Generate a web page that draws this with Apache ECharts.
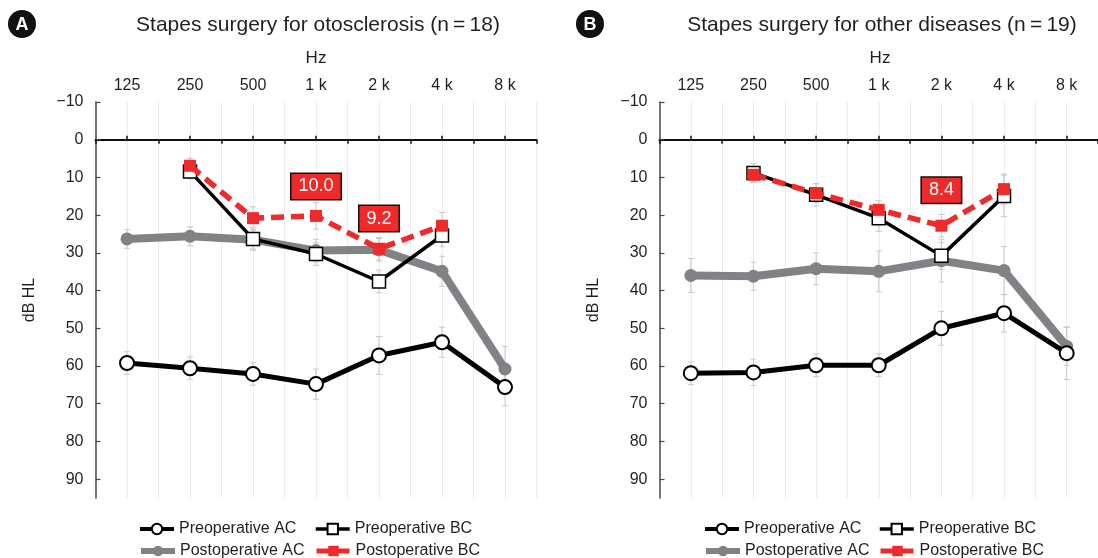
<!DOCTYPE html>
<html>
<head>
<meta charset="utf-8">
<script src="https://cdn.jsdelivr.net/npm/echarts@6/dist/echarts.min.js"></script>
<style>
html,body{margin:0;padding:0;background:#fff;}
#chart{width:1098px;height:558px;}
</style>
</head>
<body>
<div id="chart"></div>
<script>
// ---- data ----
const categories = ['125', '250', '500', '1 k', '2 k', '4 k', '8 k'];
const yTickMin = -10, yTickMax = 95, yTickStep = 10;
const yTickValues = [-10, 0, 10, 20, 30, 40, 50, 60, 70, 80, 90];

const titleA = 'Stapes surgery for otosclerosis (n\u2009=\u200918)';
const titleB = 'Stapes surgery for other diseases (n\u2009=\u200919)';
const seriesNames = ['Preoperative AC', 'Preoperative BC', 'Postoperative AC', 'Postoperative BC'];

// Panel A values (dB HL) and SD half-widths
const aPreAC   = [59.2, 60.6, 62.1, 64.8, 57.2, 53.7, 65.6];
const aPreBC   = [null, 8.4, 26.3, 30.3, 37.6, 25.4, null];
const aPostAC  = [26.3, 25.6, 26.5, 29.4, 29.2, 34.9, 60.8];
const aPostBC  = [null, 6.9, 20.8, 20.2, 28.9, 22.8, null];
const aPreACErr  = [3, 3, 3, 4, 5, 4, 5];
const aPreBCErr  = [null, 2, 3, 3, 3, 3, null];
const aPostACErr = [2.5, 2.5, 2.5, 3, 3, 4, 6];
const aPostBCErr = [null, 2, 3, 3.5, 3, 3.5, null];
const aNotes = [['1 k', 12.4, '10.0'], ['2 k', 20.9, '9.2']];

// Panel B values
const bPreAC   = [61.9, 61.7, 59.8, 59.8, 50.0, 46.0, 56.6];
const bPreBC   = [null, 8.8, 14.6, 20.8, 30.8, 14.9, null];
const bPostAC  = [36.0, 36.2, 34.2, 34.9, 32.1, 34.7, 54.8];
const bPostBC  = [null, 9.3, 14.2, 18.6, 22.8, 13.1, null];
const bPreACErr  = [3, 3.5, 3, 3, 4.5, 5, 7];
const bPreBCErr  = [null, 2.5, 3, 3.5, 3.5, 5.5, null];
const bPostACErr = [4.5, 3.7, 4.2, 5.4, 5.6, 6.4, 5];
const bPostBCErr = [null, 2, 2.5, 2.5, 3, 4, null];
const bNotes = [['2 k', 13.4, '8.4']];

// ---- styling ----
const FONT = '"Liberation Sans", Arial, Helvetica, sans-serif';
const TXT = '#231f20';
const RED = '#ee2a2a';
const GRAY = '#808285';

const chart = echarts.init(document.getElementById('chart'));

const grids = [], xAxes = [], yAxes = [], series = [], legends = [], graphics = [];

function buildPanel(p, gridLeft, vals, errs, notes, title, letter, legendLeft1, legendLeft2) {
  const g = grids.length;
  grids.push({left: gridLeft, top: 102, width: 441, height: 396, containLabel: false});
  const xb = xAxes.length, yb = yAxes.length;
  xAxes.push({type: 'category', gridIndex: g, position: 'top', data: categories, boundaryGap: true,
    axisLine: {show: false, onZero: false}, axisTick: {show: false}, splitLine: {show: false},
    axisLabel: {fontFamily: FONT, fontSize: 16, color: TXT, margin: 8}});
  xAxes.push({type: 'value', gridIndex: g, position: 'bottom', min: -0.5, max: 6.5, interval: 0.5,
    axisLine: {show: false, onZero: false}, axisTick: {show: false}, axisLabel: {show: false},
    splitLine: {show: true, lineStyle: {color: '#ececec', width: 1}}});
  xAxes.push({type: 'category', gridIndex: g, position: 'bottom', data: categories, boundaryGap: true,
    axisLine: {show: true, onZero: true, onZeroAxisIndex: yb, lineStyle: {color: '#111', width: 2}},
    axisTick: {show: true, inside: true, alignWithLabel: true, length: 4, lineStyle: {color: '#111', width: 1.5}},
    axisLabel: {show: false}, splitLine: {show: false}});
  xAxes.push({type: 'category', gridIndex: g, position: 'bottom', data: categories, boundaryGap: true,
    axisLine: {show: false, onZero: true, onZeroAxisIndex: yb + 1},
    axisTick: {show: true, inside: false, alignWithLabel: false, length: 4, lineStyle: {color: '#111', width: 1.5}},
    axisLabel: {show: false}, splitLine: {show: false}});

  yAxes.push({type: 'value', gridIndex: g, inverse: true, min: yTickMin, max: yTickMax, interval: yTickStep,
    position: 'left',
    name: 'dB HL', nameLocation: 'middle', nameGap: 58, nameRotate: 90,
    nameTextStyle: {fontFamily: FONT, fontSize: 16, color: TXT},
    axisLine: {show: true, onZero: false, lineStyle: {color: '#4a4a4a', width: 1.5}},
    axisTick: {show: true, inside: true, length: 5, lineStyle: {color: '#4a4a4a', width: 1.2},
      customValues: yTickValues},
    axisLabel: {fontFamily: FONT, fontSize: 16, color: TXT, margin: 12,
      customValues: yTickValues,
      formatter: v => (v > 90 ? '' : (v < 0 ? '\u2212' + Math.abs(v) : String(v)))},
    splitLine: {show: false}});
  yAxes.push({type: 'value', gridIndex: g, inverse: true, min: yTickMin, max: yTickMax, interval: yTickStep,
    position: 'right', show: false, axisLine: {onZero: false}});

  const xi = xb, yi = yb;

  // error bars
  const errData = [];
  vals.forEach((v, k) => v.forEach((m, i) => { if (m != null && errs[k][i] != null) errData.push([i, m, errs[k][i]]); }));
  series.push({type: 'custom', xAxisIndex: xi, yAxisIndex: yi, z: 1, silent: true,
    data: errData,
    renderItem: (params, api) => {
      const x = api.value(0), m = api.value(1), e = api.value(2);
      const top = api.coord([x, m - e]), bot = api.coord([x, m + e]);
      const w = 3;
      const st = {stroke: '#c9c9c9', lineWidth: 1, fill: null};
      return {type: 'group', children: [
        {type: 'line', shape: {x1: top[0], y1: top[1], x2: bot[0], y2: bot[1]}, style: st},
        {type: 'line', shape: {x1: top[0] - w, y1: top[1], x2: top[0] + w, y2: top[1]}, style: st},
        {type: 'line', shape: {x1: bot[0] - w, y1: bot[1], x2: bot[0] + w, y2: bot[1]}, style: st}
      ]};
    }});

  const common = {type: 'line', xAxisIndex: xi, yAxisIndex: yi, connectNulls: false, animation: false,
    emphasis: {disabled: true}};
  series.push(Object.assign({}, common, {name: seriesNames[0], data: vals[0], z: 3,
    symbol: 'circle', symbolSize: 14,
    lineStyle: {color: '#000', width: 5},
    itemStyle: {color: '#fff', borderColor: '#000', borderWidth: 2}}));
  series.push(Object.assign({}, common, {name: seriesNames[1], data: vals[1], z: 3,
    symbol: 'rect', symbolSize: 13,
    lineStyle: {color: '#000', width: 3.5},
    itemStyle: {color: '#fff', borderColor: '#000', borderWidth: 1.5}}));
  series.push(Object.assign({}, common, {name: seriesNames[2], data: vals[2], z: 2,
    symbol: 'circle', symbolSize: 13,
    lineStyle: {color: GRAY, width: 8},
    itemStyle: {color: GRAY, borderColor: GRAY, borderWidth: 0}}));
  series.push(Object.assign({}, common, {name: seriesNames[3], data: vals[3], z: 4,
    symbol: 'rect', symbolSize: 12,
    lineStyle: {color: RED, width: 5.5, type: [13, 7]},
    itemStyle: {color: RED, borderColor: RED, borderWidth: 0}}));

  // annotation boxes
  series.push({type: 'custom', xAxisIndex: xi, yAxisIndex: yi, z: 6, silent: true,
    data: notes.map(n => [categories.indexOf(n[0]), n[1], n[2]]),
    renderItem: (params, api) => {
      const n = notes[params.dataIndex];
      const pt = api.coord([api.value(0), api.value(1)]);
      return {type: 'text', x: pt[0], y: pt[1], z2: 10, style: {
        text: n[2], fill: '#fff', font: '18px ' + FONT, align: 'center', verticalAlign: 'middle',
        backgroundColor: RED, borderColor: '#111', borderWidth: 1.5, padding: [4, 7, 3, 7]}};
    }});

  // legends (2 x 2)
  const lgCommon = {orient: 'horizontal', itemWidth: 34, itemHeight: 13, itemGap: 6,
    textStyle: {fontFamily: FONT, fontSize: 16, color: TXT}, selectedMode: false};
  const lw = [4, 3.5, 6, 5];
  const item = k => ({name: seriesNames[k], lineStyle: {width: lw[k]}});
  legends.push(Object.assign({}, lgCommon, {data: [item(0)], left: legendLeft1, top: 516}));
  legends.push(Object.assign({}, lgCommon, {data: [item(1)], left: legendLeft2, top: 516}));
  legends.push(Object.assign({}, lgCommon, {data: [item(2)], left: legendLeft1, top: 538}));
  legends.push(Object.assign({}, lgCommon, {data: [item(3)], left: legendLeft2, top: 538}));

  // badge + titles
  const badgeX = p === 0 ? 22 : 590;
  graphics.push({type: 'circle', shape: {cx: badgeX, cy: 24, r: 14}, style: {fill: '#111'}});
  graphics.push({type: 'text', x: badgeX, y: 25, style: {text: letter, fill: '#fff',
    font: 'bold 18px ' + FONT, align: 'center', verticalAlign: 'middle'}});
  const cx = gridLeft + 441 / 2;
  graphics.push({type: 'text', x: cx + 2, y: 25, style: {text: title, fill: TXT,
    font: '21px ' + FONT, align: 'center', verticalAlign: 'middle'}});
  graphics.push({type: 'text', x: gridLeft + 3.5 * 63, y: 58, style: {text: 'Hz', fill: TXT,
    font: '17px ' + FONT, align: 'center', verticalAlign: 'middle'}});
}

buildPanel(0, 95.5, [aPreAC, aPreBC, aPostAC, aPostBC], [aPreACErr, aPreBCErr, aPostACErr, aPostBCErr],
  aNotes, titleA, 'A', 133, 309);
buildPanel(1, 659.5, [bPreAC, bPreBC, bPostAC, bPostBC], [bPreACErr, bPreBCErr, bPostACErr, bPostBCErr],
  bNotes, titleB, 'B', 698, 873);

chart.setOption({
  animation: false,
  backgroundColor: '#fff',
  grid: grids,
  xAxis: xAxes,
  yAxis: yAxes,
  series: series,
  legend: legends,
  graphic: graphics
});
</script>
</body>
</html>
